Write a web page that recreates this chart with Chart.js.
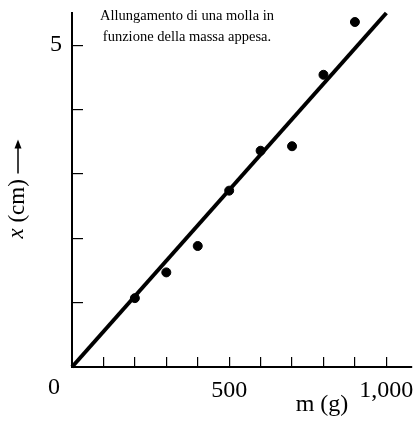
<!DOCTYPE html>
<html>
<head>
<meta charset="utf-8">
<script src="https://cdn.jsdelivr.net/npm/chart.js@4.4.1/dist/chart.umd.min.js"></script>
<style>
  html, body { margin:0; padding:0; background:#fff; }
  canvas { display:block; }
</style>
</head>
<body>
<canvas id="chart" width="417" height="421"></canvas>
<script>
// misure: massa (g) e allungamento (cm)
const masses = [200, 300, 400, 500, 600, 700, 800, 900];
const stretch = [1.07, 1.47, 1.88, 2.74, 3.36, 3.43, 4.54, 5.36];
// retta interpolante
const fitMass = [0, 1000];
const fitStretch = [0, 5.5];
const titleLines = ["Allungamento di una molla in", "funzione della massa appesa."];

const SERIF = "'Liberation Serif', 'DejaVu Serif', serif";

const extraText = {
  id: "extraText",
  afterDraw(chart){
    const { ctx, scales:{x, y} } = chart;
    ctx.save();
    ctx.fillStyle = "#000";
    ctx.textAlign = "center";
    ctx.textBaseline = "middle";

    ctx.font = `14.5px ${SERIF}`;
    ctx.fillText(titleLines[0], 187, 16);
    ctx.fillText(titleLines[1], 187, 37);

    ctx.font = `24px ${SERIF}`;
    ctx.fillText("0", x.getPixelForValue(0) - 18, y.getPixelForValue(0) + 21);
    ctx.fillText("m (g)", 322, 405);

    // titolo asse y ruotato
    ctx.translate(17, 190);
    ctx.rotate(-Math.PI/2);
    ctx.textAlign = "left";
    ctx.font = `italic 23px ${SERIF}`;
    const w1 = ctx.measureText("x").width;
    ctx.font = `23px ${SERIF}`;
    const rest = " (cm) ";
    const w2 = ctx.measureText(rest).width;
    const total = w1 + w2 + 32;
    let sx = -total/2;
    ctx.font = `italic 23px ${SERIF}`;
    ctx.fillText("x", sx, 0);
    ctx.font = `23px ${SERIF}`;
    ctx.fillText(rest, sx + w1, 1);
    // freccia
    const ax = sx + w1 + w2;
    ctx.strokeStyle = "#000";
    ctx.lineWidth = 1.5;
    ctx.beginPath();
    ctx.moveTo(ax, 1);
    ctx.lineTo(ax + 27, 1);
    ctx.stroke();
    ctx.beginPath();
    ctx.moveTo(ax + 34, 1);
    ctx.lineTo(ax + 25, -2.5);
    ctx.lineTo(ax + 25, 4.5);
    ctx.closePath();
    ctx.fill();
    ctx.restore();
  }
};

new Chart(document.getElementById("chart"), {
  type: "scatter",
  data: {
    datasets: [
      {
        type: "line",
        data: fitMass.map((m, i) => ({ x: m, y: fitStretch[i] })),
        borderColor: "#000",
        borderWidth: 4,
        pointRadius: 0,
        clip: false
      },
      {
        data: masses.map((m, i) => ({ x: m, y: stretch[i] })),
        backgroundColor: "#000",
        borderColor: "#000",
        pointRadius: 4.5,
        clip: false
      }
    ]
  },
  options: {
    responsive: false,
    animation: false,
    layout: { padding: { top: 13, right: 4, left: 0, bottom: 0 } },
    plugins: { legend: { display: false }, tooltip: { enabled: false } },
    scales: {
      x: {
        type: "linear",
        min: 0,
        max: 1080,
        afterFit: s => { s.height = 54; s.paddingLeft = 0; s.paddingRight = 0; },
        afterBuildTicks: s => { s.ticks = [100,200,300,400,500,600,700,800,900,1000].map(v => ({ value: v })); },
        border: { display: true, color: "#000", width: 2 },
        grid: { drawOnChartArea: false, drawTicks: true, tickLength: -10, color: "#000", lineWidth: 1.2 },
        ticks: {
          padding: 19,
          color: "#000",
          font: { family: SERIF, size: 24 },
          maxRotation: 0,
          autoSkip: false,
          callback: v => v === 500 ? "500" : v === 1000 ? "1,000" : ""
        }
      },
      y: {
        type: "linear",
        min: 0,
        max: 5.5,
        afterFit: s => { s.width = 72; s.paddingTop = 0; s.paddingBottom = 0; },
        afterBuildTicks: s => { s.ticks = [1,2,3,4,5].map(v => ({ value: v })); },
        border: { display: true, color: "#000", width: 2 },
        grid: { drawOnChartArea: false, drawTicks: true, tickLength: -11, color: "#000", lineWidth: 1.2 },
        ticks: {
          padding: 21,
          color: "#000",
          font: { family: SERIF, size: 24 },
          autoSkip: false,
          callback: v => v === 5 ? "5" : ""
        }
      }
    }
  },
  plugins: [extraText]
});
</script>
</body>
</html>
